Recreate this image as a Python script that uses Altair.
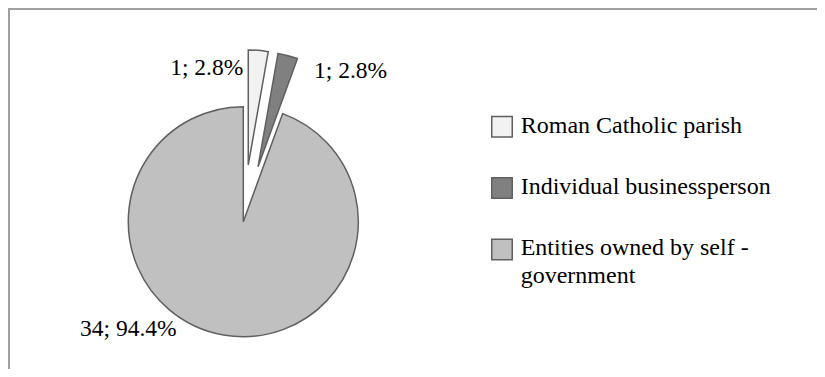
import altair as alt
import pandas as pd

# ---- data ----
categories = ["Roman Catholic parish", "Individual businessperson", "Entities owned by self -\ngovernment"]
counts = [1, 1, 34]

# ---- styles ----
fill_colors = ["#f2f2f2", "#808080", "#c0c0c0"]
explode = [57, 57, 0]
label_angle = [0, 25.2, 227.1]
label_radius = [154, 166, 157]
label_align = ["right", "left", "center"]

W, H = 809, 361
CX, CY, R = 235.3, 213.7, 115
STROKE = "#606060"
FONT = "Liberation Serif"

df = pd.DataFrame({
    "category": categories,
    "count": counts,
    "order": list(range(len(categories))),
    "color": fill_colors,
    "explode": explode,
    "la": label_angle,
    "lr": label_radius,
    "align": label_align,
})

base = alt.Chart(df).transform_joinaggregate(
    total="sum(count)"
).transform_window(
    cum="sum(count)", sort=[alt.SortField("order")], frame=[None, 0]
).transform_calculate(
    t1="2*PI*datum.cum/datum.total",
    t0="2*PI*(datum.cum-datum.count)/datum.total",
    mid="(datum.t0+datum.t1)/2",
    cx=f"{CX} + datum.explode*sin(datum.mid)",
    cy=f"{CY} - datum.explode*cos(datum.mid)",
    lbl="datum.count + '; ' + format(datum.count/datum.total, '.1%')",
    lx=f"{CX} + datum.lr*sin(datum.la*PI/180)",
    ly=f"{CY} - datum.lr*cos(datum.la*PI/180)",
)

pie = base.mark_arc(radius=R, stroke=STROKE, strokeWidth=1.5, strokeJoin="miter").encode(
    x=alt.X("cx:Q", scale=None, axis=None),
    y=alt.Y("cy:Q", scale=None, axis=None),
    theta=alt.Theta("t0:Q", scale=None),
    theta2="t1:Q",
    color=alt.Color("color:N", scale=None),
)

label_layers = []
for a in ["right", "left", "center"]:
    label_layers.append(
        base.transform_filter(f"datum.align == '{a}'").mark_text(
            font=FONT, fontSize=23.5, align=a, baseline="middle", color="#000000"
        ).encode(
            x=alt.X("lx:Q", scale=None, axis=None),
            y=alt.Y("ly:Q", scale=None, axis=None),
            text="lbl:N",
        )
    )

# ---- legend ----
LX, LY0, LSP = 494, 118.8, 61.3
leg_df = pd.DataFrame({"category": categories, "idx": list(range(len(categories))), "color": fill_colors})
leg_base = alt.Chart(leg_df).transform_calculate(
    sx=f"{LX}",
    sy=f"{LY0} + datum.idx*{LSP}",
    tx=f"{LX} + 18.7",
    ty=f"{LY0} + datum.idx*{LSP} + 5.7",
)
leg_sym = leg_base.mark_square(size=420, stroke=STROKE, strokeWidth=1.5, opacity=1).encode(
    x=alt.X("sx:Q", scale=None, axis=None),
    y=alt.Y("sy:Q", scale=None, axis=None),
    fill=alt.Color("color:N", scale=None),
)
leg_txt = leg_base.mark_text(
    font=FONT, fontSize=24, align="left", baseline="alphabetic", lineBreak="\n", lineHeight=28, color="#000000"
).encode(
    x=alt.X("tx:Q", scale=None, axis=None),
    y=alt.Y("ty:Q", scale=None, axis=None),
    text="category:N",
)

# ---- border ----
one = alt.Chart(pd.DataFrame({"k": [0]}))
top_rule = one.mark_rule(color="#a0a0a0", strokeWidth=2).encode(
    x=alt.value(0), x2=alt.value(W), y=alt.value(1)
)
left_rule = one.mark_rule(color="#a0a0a0", strokeWidth=2).encode(
    x=alt.value(1), y=alt.value(0), y2=alt.value(H)
)

chart = alt.layer(top_rule, left_rule, pie, *label_layers, leg_sym, leg_txt).properties(
    width=W, height=H, padding=0, autosize="none"
).configure_view(stroke=None)

chart.save("out.html", embed_options={"renderer": "svg", "actions": False})
